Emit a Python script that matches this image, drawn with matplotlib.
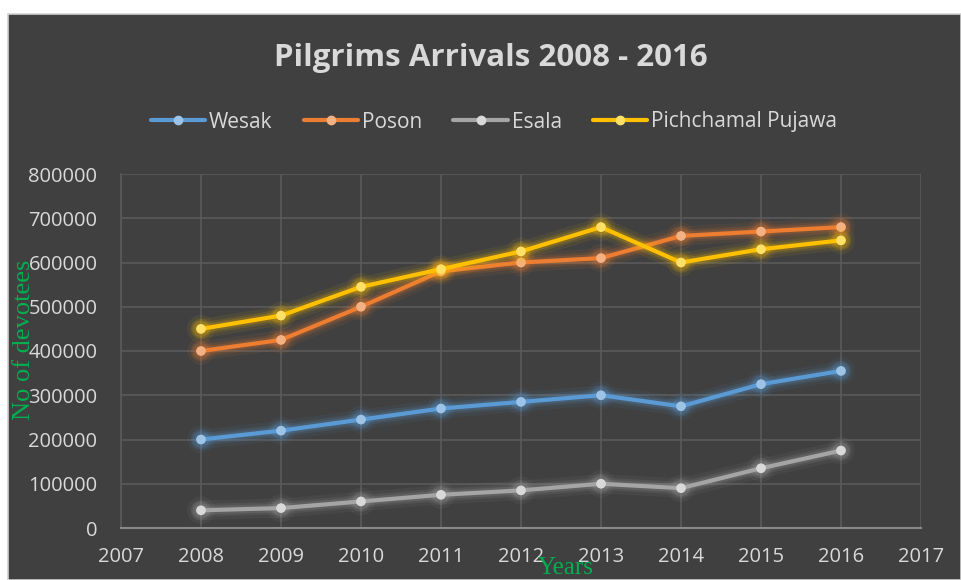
import matplotlib.pyplot as plt
import matplotlib.patheffects as pe
from matplotlib.patches import Rectangle

years = [2008, 2009, 2010, 2011, 2012, 2013, 2014, 2015, 2016]
wesak = [200000, 220000, 245000, 270000, 285000, 300000, 275000, 325000, 355000]
poson = [400000, 425000, 500000, 580000, 600000, 610000, 660000, 670000, 680000]
esala = [40000, 45000, 60000, 75000, 85000, 100000, 90000, 135000, 175000]
pichchamal = [450000, 480000, 545000, 585000, 625000, 680000, 600000, 630000, 650000]

series = [
    ('Wesak', wesak, '#5B9BD5', '#9DC3E6'),
    ('Poson', poson, '#ED7D31', '#F4B183'),
    ('Esala', esala, '#A5A5A5', '#D9D9D9'),
    ('Pichchamal Pujawa', pichchamal, '#FFC000', '#FFE066'),
]

bg = '#404040'
txt = '#D9D9D9'
font = ['Open Sans', 'DejaVu Sans']

fig = plt.figure(figsize=(9.61, 5.80), dpi=100)
fig.patch.set_facecolor('white')
fig.patches.append(Rectangle((8 / 961, 0), 1 - 8 / 961, 1 - 14 / 580,
                             transform=fig.transFigure, facecolor=bg,
                             edgecolor='#D0D0D0', linewidth=1.2, zorder=-10))

ax = fig.add_axes([121 / 961, (580 - 528) / 580, 800 / 961, 354 / 580])
ax.set_facecolor(bg)

for name, vals, col, mcol in series:
    glow = [pe.Stroke(linewidth=14, foreground=col, alpha=0.07),
            pe.Stroke(linewidth=9, foreground=col, alpha=0.12),
            pe.Stroke(linewidth=6, foreground=col, alpha=0.18),
            pe.Normal()]
    ax.plot(years, vals, color=col, linewidth=3, marker='o', markersize=6,
            markerfacecolor=mcol, markeredgecolor=mcol, label=name,
            path_effects=glow, solid_capstyle='round', zorder=3)

ax.set_xlim(2007, 2017)
ax.set_ylim(0, 800000)
ax.set_xticks(range(2007, 2018))
ax.set_yticks(range(0, 800001, 100000))
ax.grid(True, color='#5A5A5A', linewidth=1.2)
ax.set_axisbelow(True)
for s in ['top', 'right']:
    ax.spines[s].set_visible(False)
ax.spines['left'].set_color('#5A5A5A')
ax.spines['left'].set_linewidth(1.2)
ax.spines['bottom'].set_color('#8A8A8A')
ax.spines['bottom'].set_linewidth(1.5)
ax.tick_params(length=0, colors=txt, labelsize=14.5)
ax.tick_params(axis='y', pad=17)
ax.tick_params(axis='x', pad=14)
for lab in ax.get_xticklabels() + ax.get_yticklabels():
    lab.set_family(font)

fig.text(491 / 961, 1 - 58 / 580, 'Pilgrims Arrivals 2008 - 2016', ha='center',
         va='center', fontsize=22.5, fontweight='bold', color=txt, family=font)

leg = fig.legend(loc='center', bbox_to_anchor=(494 / 961, 1 - 122 / 580), ncol=4,
                 frameon=False, handlelength=2.6, handletextpad=0.2,
                 columnspacing=1.5, prop={'family': font, 'size': 15})
for t in leg.get_texts():
    t.set_color(txt)
for h in leg.legend_handles:
    h.set_path_effects([])
    h.set_markersize(6)

fig.text(24 / 961, 1 - 340 / 580, 'No of devotees', rotation=90, ha='center',
         va='center', fontsize=19, color='#00B050', family='Liberation Serif')
fig.text(566 / 961, 1 / 580, 'Years', ha='center', va='bottom',
         fontsize=18, color='#00B050', family='Liberation Serif')

fig.savefig('out.png', dpi=100, facecolor=fig.get_facecolor())
